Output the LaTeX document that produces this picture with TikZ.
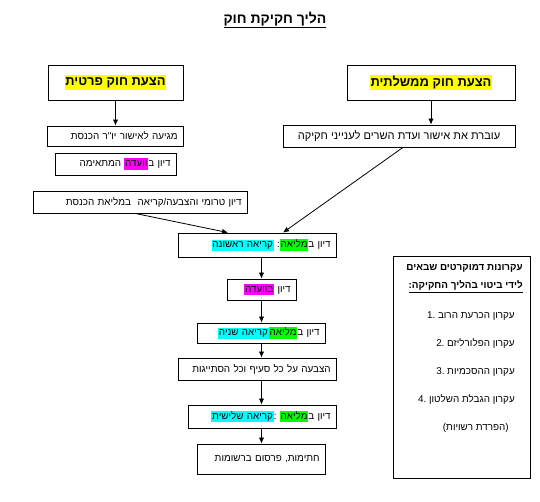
\documentclass[tikz,border=0pt]{standalone}
\usepackage{fontspec}
\usetikzlibrary{arrows.meta}
\TeXXeTstate=1
\newfontfamily\heb[Script=Hebrew]{Liberation Sans}
\newfontfamily\lat{Liberation Sans}
\definecolor{hlyellow}{RGB}{255,255,0}
\definecolor{hlgreen}{RGB}{0,255,0}
\definecolor{hlcyan}{RGB}{0,255,255}
\definecolor{hlmagenta}{RGB}{255,0,255}
\newcommand\hlx[2]{\hbox{\fboxsep=0.6pt\colorbox{#1}{\rule[-0.22em]{0pt}{0.98em}#2}}}
\begin{document}
\begin{tikzpicture}[x=0.75pt,y=-0.75pt,
  bx/.style={draw=black, line width=0.6pt, inner xsep=4pt, inner ysep=0pt,
    font=\heb\fontsize{7.4}{9}\selectfont},
  bxr/.style={bx, align=right},
  bxb/.style={bx, font=\heb\bfseries\fontsize{9.7}{12}\selectfont},
  arr/.style={draw=black, line width=0.6pt, -{Latex[length=4.5pt,width=4pt]}},
  txt/.style={inner sep=0pt, anchor=east, font=\heb\fontsize{7.4}{9}\selectfont},
  txtb/.style={txt, font=\heb\bfseries\fontsize{7.4}{9}\selectfont}]
\useasboundingbox[fill=white] (0,0) rectangle (540,502);

\node[font=\heb\bfseries\fontsize{10.5}{12}\selectfont, inner sep=0pt] (title) at (275,20)
  {\underline{\beginR הליך חקיקת חוק\endR}};

\node[bxb, minimum width=101.25pt, minimum height=26.25pt] (A) at (115.5,82.5)
  {\hlx{hlyellow}{\beginR הצעת חוק פרטית\endR}};
\node[bxb, minimum width=126pt, minimum height=26.25pt] (B) at (431,82.5)
  {\hlx{hlyellow}{\beginR הצעת חוק ממשלתית\endR}};

\node[bxr, text width=94pt, minimum height=15pt] (C) at (115,136)
  {\beginR מגיעה לאישור יו"ר הכנסת\endR};
\node[bxr, text width=82.75pt, minimum height=16.5pt] (D) at (115.5,164)
  {\beginR המתאימה\endR\ \hlx{hlmagenta}{\beginR וועדה\endR}\beginR דיון ב\endR};
\node[bx, font=\heb\fontsize{8.3}{10}\selectfont, minimum width=174pt, minimum height=16.5pt] (E) at (399,136)
  {\beginR עוברת את אישור ועדת השרים לענייני חקיקה\endR};
\node[bxr, text width=152.5pt, minimum height=16.5pt] (F) at (140,202)
  {\beginR דיון טרומי והצבעה/קריאה\ \ במליאת הכנסת\endR};

\node[bxr, text width=110.5pt, minimum height=18pt] (G) at (257,245)
  {\hlx{hlcyan}{\beginR קריאה ראשונה\endR}\ :\hlx{hlgreen}{\beginR מליאה\endR}\beginR דיון ב\endR};
\node[bxr, text width=43.75pt, minimum height=15.75pt] (H) at (261.5,289.5)
  {\hlx{hlmagenta}{\beginR בוועדה\endR}\ \beginR דיון\endR};
\node[bxr, text width=88pt, minimum height=15pt] (I) at (261,333)
  {\hlx{hlcyan}{\beginR קריאה שניה\endR}\hlx{hlgreen}{\beginR מליאה\endR}\beginR דיון ב\endR};
\node[bxr, text width=110.5pt, minimum height=16.5pt] (J) at (257,369)
  {\beginR הצבעה על כל סעיף וכל הסתייגות\endR};
\node[bxr, text width=103pt, minimum height=17.25pt] (K) at (262,416.5)
  {\hlx{hlcyan}{\beginR קריאה שלישית\endR}:\ \hlx{hlgreen}{\beginR מליאה\endR}\beginR דיון ב\endR};
\node[bxr, text width=88pt, minimum height=22.5pt] (L) at (261,459)
  {\beginR חתימות, פרסום ברשומות\endR};

\node[draw=black, line width=0.6pt, minimum width=102.75pt, minimum height=166.5pt] (M) at (461.5,367) {};
\node[txtb] (m1) at (523,268) {\beginR עקרונות דמוקרטים שבאים\endR};
\node[txtb] (m2) at (523,287) {\underline{\beginR לידי ביטוי בהליך החקיקה:\endR}};
\node[txt] (m3) at (515,316) {{\lat 1.}\ \beginR עקרון הכרעת הרוב\endR};
\node[txt] (m4) at (515,343) {{\lat 2.}\ \beginR עקרון הפלורליזם\endR};
\node[txt] (m5) at (515,372) {{\lat 3.}\ \beginR עקרון ההסכמיות\endR};
\node[txt] (m6) at (515,399) {{\lat 4.}\ \beginR עקרון הגבלת השלטון\endR};
\node[txt] (m7) at (509,428) {\beginR (הפרדת רשויות)\endR};

\draw[arr] (A.south) -- (A.south |- C.north);
\draw[arr] (B.south) -- (B.south |- E.north);
\draw[arr] ([xshift=3pt]E.south) -- ([xshift=19.5pt]G.north);
\draw[arr] ([xshift=-3.75pt]F.south) -- ([xshift=-21.75pt]G.north);
\draw[arr] (H.center |- G.south) -- (H.north);
\draw[arr] (H.south) -- (H.south |- I.north);
\draw[arr] (I.south -| H.center) -- (J.north -| H.center);
\draw[arr] (J.south -| H.center) -- (K.north -| H.center);
\draw[arr] (K.south -| H.center) -- (L.north -| H.center);
\end{tikzpicture}
\end{document}
